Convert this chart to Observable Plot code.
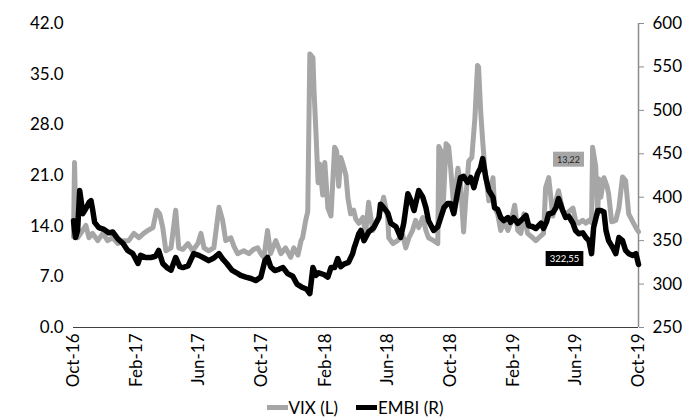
<!DOCTYPE html>
<html>
<head>
<meta charset="utf-8">
<script src="https://cdn.jsdelivr.net/npm/d3@7"></script>
<script src="https://cdn.jsdelivr.net/npm/@observablehq/plot@0.6"></script>
<style>
  html, body { margin: 0; padding: 0; background: #fff; }
  #chart svg { display: block; }
  #legend { display: flex; justify-content: center; align-items: center; height: 24px; font-family: Lato, sans-serif; font-size: 17px; color: #000; padding-left: 18px; }
  #legend .sw { display: inline-block; width: 21px; height: 5px; margin-right: 1px; }
  #legend .item { display: flex; align-items: center; margin: 0 9px; }
</style>
</head>
<body>
<div id="chart"></div>
<div id="legend"></div>
<script>
const seriesNames = ["VIX (L)", "EMBI (R)"];
const seriesColors = ["#a6a6a6", "#000000"];

const xTickDates = ["2016-10-01","2017-02-01","2017-06-01","2017-10-01","2018-02-01","2018-06-01","2018-10-01","2019-02-01","2019-06-01","2019-10-01"];
const xTickLabels = ["Oct-16","Feb-17","Jun-17","Oct-17","Feb-18","Jun-18","Oct-18","Feb-19","Jun-19","Oct-19"];
const leftTicks = [0, 7, 14, 21, 28, 35, 42];
const rightTicks = [250, 300, 350, 400, 450, 500, 550, 600];

const vixDates = [
"2016-10-01","2016-10-03","2016-10-05","2016-10-09","2016-10-15","2016-10-25","2016-10-31","2016-11-07","2016-11-17","2016-11-27",
"2016-12-06","2016-12-16","2016-12-26","2017-01-06","2017-01-16","2017-01-26","2017-02-05","2017-02-14","2017-02-22","2017-03-04",
"2017-03-11","2017-03-17","2017-03-23","2017-03-29","2017-04-08","2017-04-17","2017-04-23","2017-05-01","2017-05-11","2017-05-20",
"2017-05-30","2017-06-05","2017-06-11","2017-06-20","2017-06-30","2017-07-10","2017-07-17","2017-07-23","2017-08-02","2017-08-08",
"2017-08-15","2017-08-27","2017-09-06","2017-09-15","2017-09-23","2017-09-29","2017-10-05","2017-10-12","2017-10-18","2017-10-28",
"2017-11-07","2017-11-16","2017-11-26","2017-12-02","2017-12-10","2017-12-16","2017-12-19","2017-12-25","2017-12-29","2018-01-02",
"2018-01-08","2018-01-10","2018-01-14","2018-01-18","2018-01-21","2018-01-27","2018-01-31","2018-02-06","2018-02-12","2018-02-19",
"2018-02-23","2018-02-27","2018-03-03","2018-03-09","2018-03-13","2018-03-17","2018-03-22","2018-03-28","2018-04-01","2018-04-07",
"2018-04-15","2018-04-20","2018-04-26","2018-05-04","2018-05-10","2018-05-16","2018-05-25","2018-06-02","2018-06-04","2018-06-12",
"2018-06-21","2018-07-01","2018-07-07","2018-07-13","2018-07-20","2018-07-26","2018-08-01","2018-08-09","2018-08-15","2018-08-20",
"2018-08-30","2018-09-07","2018-09-09","2018-09-13","2018-09-17","2018-09-23","2018-09-28","2018-10-02","2018-10-08","2018-10-16",
"2018-10-21","2018-10-27","2018-10-31","2018-11-06","2018-11-12","2018-11-18","2018-11-23","2018-11-25","2018-11-29","2018-12-03",
"2018-12-07","2018-12-11","2018-12-15","2018-12-23","2018-12-26","2019-01-01","2019-01-07","2019-01-13","2019-01-21","2019-01-26",
"2019-02-03","2019-02-09","2019-02-15","2019-02-21","2019-02-28","2019-03-10","2019-03-16","2019-03-22","2019-03-31","2019-04-04",
"2019-04-10","2019-04-18","2019-04-24","2019-04-29","2019-05-07","2019-05-13","2019-05-19","2019-05-27","2019-06-01","2019-06-07",
"2019-06-15","2019-06-21","2019-06-27","2019-07-02","2019-07-04","2019-07-10","2019-07-14","2019-07-16","2019-07-20","2019-07-26",
"2019-08-01","2019-08-04","2019-08-10","2019-08-18","2019-08-24","2019-08-31","2019-09-06","2019-09-12","2019-09-20","2019-09-26",
"2019-10-01"];
const vixValues = [
12.5, 22.8, 16.6, 12.4, 13.0, 14.1, 12.4, 13.0, 12.0, 13.0,
12.0, 12.4, 11.6, 12.0, 12.0, 13.0, 12.4, 13.0, 13.4, 13.8,
16.2, 15.7, 13.8, 10.6, 11.0, 16.2, 11.0, 10.8, 11.6, 10.6,
11.6, 13.0, 11.0, 10.6, 11.0, 16.6, 14.8, 12.0, 12.4, 11.2,
10.2, 10.6, 10.2, 10.8, 11.0, 10.2, 9.7, 13.4, 10.2, 12.0,
10.2, 11.0, 9.7, 11.0, 10.0, 12.0, 12.4, 14.8, 16.0, 37.8,
37.3, 33.0, 26.8, 20.0, 22.6, 18.3, 22.8, 16.5, 15.4, 24.9,
24.4, 19.5, 23.5, 22.1, 21.0, 17.8, 15.7, 16.2, 15.0, 14.4,
15.2, 13.0, 17.3, 13.4, 14.4, 15.2, 18.0, 15.2, 12.4, 11.6,
12.0, 12.8, 11.0, 12.4, 13.4, 14.8, 13.8, 15.2, 13.4, 12.4,
12.0, 11.6, 25.0, 24.4, 16.0, 25.4, 25.0, 22.0, 16.5, 22.0,
20.0, 13.2, 17.5, 23.0, 23.5, 29.0, 36.2, 36.0, 30.0, 25.8,
22.0, 19.9, 17.5, 20.7, 16.6, 15.7, 13.4, 14.6, 13.4, 14.4,
16.9, 13.4, 13.0, 15.7, 13.0, 12.4, 12.0, 12.4, 13.0, 19.3,
20.7, 15.4, 17.5, 18.9, 16.2, 15.7, 16.0, 16.5, 14.8, 14.4,
14.8, 14.4, 14.8, 14.5, 24.9, 22.3, 15.7, 20.5, 18.0, 20.7,
19.5, 18.5, 14.6, 14.8, 16.5, 20.8, 20.3, 15.7, 14.6, 13.8,
13.22];

const embiDates = [
"2016-10-01","2016-10-03","2016-10-05","2016-10-09","2016-10-13","2016-10-16","2016-10-19","2016-10-25","2016-10-31","2016-11-04",
"2016-11-07","2016-11-11","2016-11-19","2016-11-29","2016-12-08","2016-12-16","2016-12-26","2017-01-05","2017-01-14","2017-01-24",
"2017-02-03","2017-02-08","2017-02-18","2017-02-28","2017-03-09","2017-03-15","2017-03-23","2017-03-31","2017-04-08","2017-04-17",
"2017-04-25","2017-05-01","2017-05-11","2017-05-22","2017-06-01","2017-06-11","2017-06-20","2017-06-30","2017-07-10","2017-07-17",
"2017-07-25","2017-08-04","2017-08-13","2017-08-21","2017-08-31","2017-09-10","2017-09-19","2017-09-29","2017-10-07","2017-10-12",
"2017-10-18","2017-10-26","2017-11-03","2017-11-11","2017-11-20","2017-11-30","2017-12-08","2017-12-19","2017-12-27","2018-01-02",
"2018-01-08","2018-01-14","2018-01-19","2018-01-29","2018-02-06","2018-02-12","2018-02-19","2018-02-25","2018-03-03","2018-03-09",
"2018-03-18","2018-03-26","2018-03-29","2018-04-01","2018-04-07","2018-04-11","2018-04-17","2018-04-26","2018-05-06","2018-05-16",
"2018-05-19","2018-05-25","2018-06-02","2018-06-08","2018-06-18","2018-06-27","2018-07-03","2018-07-11","2018-07-17","2018-07-23",
"2018-08-01","2018-08-09","2018-08-15","2018-08-20","2018-08-30","2018-09-07","2018-09-13","2018-09-19","2018-09-26","2018-10-02",
"2018-10-08","2018-10-16","2018-10-21","2018-10-27","2018-11-04","2018-11-10","2018-11-16","2018-11-23","2018-11-29","2018-12-03",
"2018-12-09","2018-12-15","2018-12-23","2018-12-26","2019-01-01","2019-01-07","2019-01-13","2019-01-21","2019-01-26","2019-02-01",
"2019-02-09","2019-02-15","2019-02-25","2019-03-02","2019-03-10","2019-03-16","2019-03-26","2019-03-31","2019-04-06","2019-04-10",
"2019-04-18","2019-04-24","2019-04-29","2019-05-07","2019-05-13","2019-05-19","2019-05-27","2019-06-01","2019-06-07","2019-06-15",
"2019-06-21","2019-06-27","2019-07-02","2019-07-06","2019-07-14","2019-07-20","2019-07-26","2019-07-30","2019-08-04","2019-08-12",
"2019-08-18","2019-08-24","2019-08-31","2019-09-06","2019-09-12","2019-09-20","2019-09-26","2019-10-01"];
const embiValues = [
373, 362, 353.6, 362, 407.7, 395, 381, 387, 394, 396,
386, 371, 365, 363, 359, 360, 352, 346.7, 338.7, 335,
323.7, 333, 330.6, 330.6, 332, 338.7, 323.7, 319, 316, 330.6,
320, 319, 321, 335, 333, 330, 327, 330, 335, 329,
323.7, 316, 313, 310, 308, 306.4, 304, 308, 327, 330.6,
320, 315.6, 317, 319, 312, 309, 300, 296, 294, 289,
319, 310, 313, 311, 308, 319, 319, 329.4, 320, 323,
325, 335, 342, 347, 358, 361.7, 350, 360, 365, 376.6,
392, 388, 382, 370, 366, 353.6, 370, 404, 396, 384.7,
407.7, 400, 388, 373, 361.7, 366, 377, 388, 392.8, 392.8,
381, 407.7, 422.7, 424, 417, 422.7, 411, 427, 434, 444.5,
422.7, 407.7, 400, 388, 386, 376.6, 373, 376.6, 371, 376.6,
370, 373, 379, 367.4, 366, 364, 370, 364, 372, 381,
382, 388, 398.5, 384.7, 376.6, 378, 370, 361.7, 358, 359,
353.6, 350, 335, 365, 384.7, 384.7, 383, 361.7, 350, 342,
335, 353.6, 350, 338.7, 335, 333, 335, 322.55];

const parse = d3.utcParse("%Y-%m-%d");
const vix = vixDates.map((d, i) => ({date: parse(d), value: vixValues[i]}));
const embi = embiDates.map((d, i) => ({date: parse(d), value: embiValues[i]}));

// right-axis (EMBI) values are mapped onto the left-axis (VIX) domain
const L = [leftTicks[0], leftTicks[leftTicks.length - 1]];
const R = [rightTicks[0], rightTicks[rightTicks.length - 1]];
const toLeft = v => L[0] + (v - R[0]) * (L[1] - L[0]) / (R[1] - R[0]);
const fromLeft = v => R[0] + (v - L[0]) * (R[1] - R[0]) / (L[1] - L[0]);

const xTicks = xTickDates.map(parse);
const xDomain = [xTicks[0], xTicks[xTicks.length - 1]];
const fmtComma = v => v.toFixed(2).replace(".", ",");
const lastVix = vix[vix.length - 1];
const lastEmbi = embi[embi.length - 1];
const labelVix = fmtComma(lastVix.value);
const labelEmbi = fmtComma(lastEmbi.value);

const chart = Plot.plot({
  width: 692,
  height: 395,
  marginLeft: 73,
  marginRight: 54,
  marginTop: 23,
  marginBottom: 68,
  style: {fontFamily: "Lato, sans-serif", fontSize: "17px", color: "#000", background: "#fff"},
  x: {type: "utc", domain: xDomain},
  y: {domain: L},
  marks: [
    Plot.axisY({anchor: "left", ticks: leftTicks, tickFormat: d => d.toFixed(1), tickSize: 0, tickPadding: 10, label: null}),
    Plot.axisY({anchor: "right", ticks: rightTicks.map(toLeft), tickFormat: d => String(Math.round(fromLeft(d))), tickSize: 5, tickPadding: 9, stroke: "#8c8c8c", fill: "#000", label: null}),
    Plot.axisX({ticks: xTicks, tickFormat: d => xTickLabels[xTicks.findIndex(t => +t === +d)], tickRotate: -90, tickSize: 0, tickPadding: 6, label: null}),
    Plot.ruleX([xDomain[1]], {y1: L[0], y2: L[1], stroke: "#8c8c8c", strokeWidth: 1.5}),
    Plot.ruleY([L[0]], {stroke: "#404040", strokeWidth: 1}),
    Plot.lineY(vix, {x: "date", y: "value", stroke: seriesColors[0], strokeWidth: 5}),
    Plot.lineY(embi, {x: "date", y: d => toLeft(d.value), stroke: seriesColors[1], strokeWidth: 5.5}),
    Plot.text([lastVix], {x: "date", y: "value", text: () => labelVix, dx: -70, dy: -72, fill: "#262626", fontSize: 9}),
    Plot.text([lastEmbi], {x: "date", y: d => toLeft(d.value), text: () => labelEmbi, dx: -74, dy: -5.5, fill: "#fff", fontSize: 9.5})
  ]
});
document.getElementById("chart").appendChild(chart);

// background boxes behind the data labels
const boxes = [[labelVix, seriesColors[0], 4, 2], [labelEmbi, seriesColors[1], 4, 2]];
chart.querySelectorAll("text").forEach(t => {
  const spec = boxes.find(b => b[0] === t.textContent);
  if (!spec) return;
  const b = t.getBBox();
  const r = document.createElementNS("http://www.w3.org/2000/svg", "rect");
  r.setAttribute("x", b.x - spec[2]);
  r.setAttribute("y", b.y - spec[3]);
  r.setAttribute("width", b.width + 2 * spec[2]);
  r.setAttribute("height", b.height + 2 * spec[3]);
  r.setAttribute("fill", spec[1]);
  const tr = t.getAttribute("transform");
  if (tr) r.setAttribute("transform", tr);
  t.parentNode.insertBefore(r, t);
});

const legend = document.getElementById("legend");
seriesNames.forEach((name, i) => {
  const item = document.createElement("span");
  item.className = "item";
  const sw = document.createElement("span");
  sw.className = "sw";
  sw.style.background = seriesColors[i];
  const tx = document.createElement("span");
  tx.textContent = name;
  item.appendChild(sw);
  item.appendChild(tx);
  legend.appendChild(item);
});
</script>
</body>
</html>
